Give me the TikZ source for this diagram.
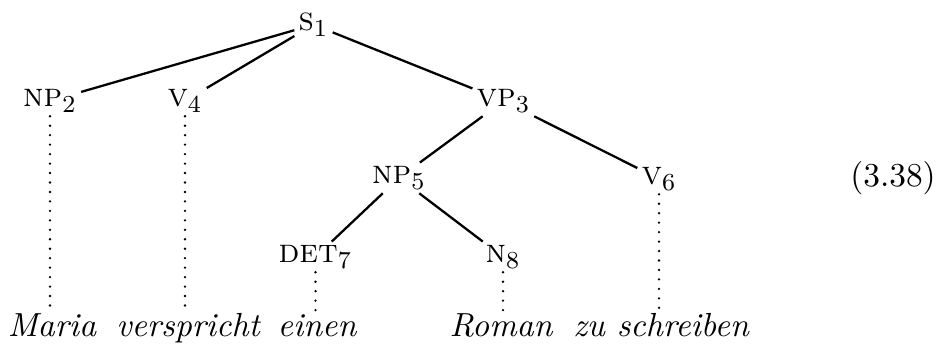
\documentclass[tikz,border=0pt]{standalone}
\begin{document}
\begin{tikzpicture}[x=0.3277pt,y=-0.3277pt,
  lab/.style={anchor=base,inner sep=1.2pt,font=\fontsize{10.95}{13.6}\selectfont},
  word/.style={anchor=base,inner sep=0.5pt,font=\fontsize{10.95}{13.6}\selectfont\itshape},
  edge/.style={line width=0.75pt},
  dots/.style={line width=0.85pt,line cap=round,dash pattern=on 0pt off 3.1pt}]
\useasboundingbox (0,0) rectangle (943,345);
% category labels
\node[lab] (s1)  at (313.5,31)  {\textsc{s}$_1$};
\node[lab] (np2) at (50,107)    {\textsc{np}$_2$};
\node[lab] (v4)  at (185,107)   {\textsc{v}$_4$};
\node[lab] (vp3) at (503.5,107) {\textsc{vp}$_3$};
\node[lab] (np5) at (399,184)   {\textsc{np}$_5$};
\node[lab] (v6)  at (659,185)   {\textsc{v}$_6$};
\node[lab] (det7) at (315.5,263) {\textsc{det}$_7$};
\node[lab] (n8)  at (503,263)   {\textsc{n}$_8$};
% words
\node[word] (w1) at (52,336)  {Maria};
\node[word] (w2) at (188,336) {verspricht};
\node[word] (w3) at (317,336) {einen};
\node[word] (w4) at (501,336) {Roman};
\node[word] (w5) at (661,336) {zu schreiben};
% equation number
\node[lab] (eq) at (893,187) {(3.38)};
% edges
\draw[edge] (s1) -- (np2);
\draw[edge] (s1) -- (v4);
\draw[edge] (s1) -- (vp3);
\draw[edge] (vp3) -- (np5);
\draw[edge] (vp3) -- (v6);
\draw[edge] (np5) -- (det7);
\draw[edge] (np5) -- (n8);
% dotted lexical links
\draw[dots] (np2.south) -- (np2.south |- w1.north);
\draw[dots] (v4.south) -- (v4.south |- w2.north);
\draw[dots] (det7.south) -- (det7.south |- w3.north);
\draw[dots] (n8.south) -- (n8.south |- w4.north);
\draw[dots] (v6.south) -- (v6.south |- w5.north);
\end{tikzpicture}
\end{document}
